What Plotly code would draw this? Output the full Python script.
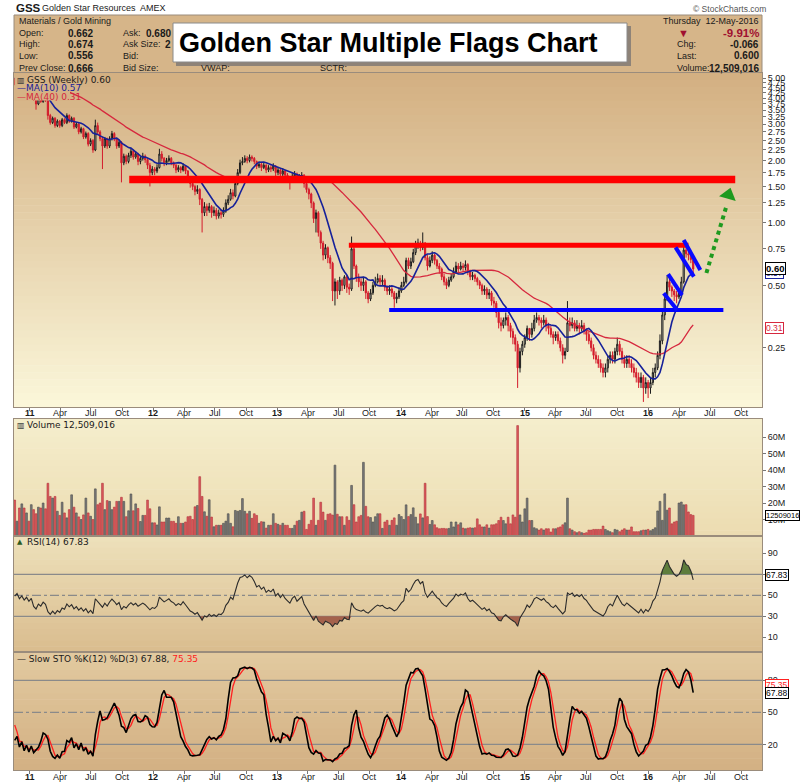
import numpy as np
import pandas as pd
import plotly.graph_objects as go

# ---------------------------------------------------------------- data
N_PRE = 40  # weeks of history before the first plotted week (feeds MAs / oscillators)
WEEKS = pd.date_range("2010-02-11", periods=327, freq="7D")

OPEN = [
    3.70, 3.75, 4.00, 3.85, 4.15, 4.05, 4.35, 4.20, 4.55, 4.40,
    4.70, 4.50, 4.80, 4.60, 4.85, 4.55, 4.75, 4.50, 4.80, 4.95,
    4.70, 4.45, 4.65, 4.40, 4.70, 4.85, 4.60, 4.90, 5.05, 4.80,
    5.10, 4.90, 5.20, 5.00, 5.25, 4.95, 5.15, 4.90, 5.10, 4.85,
    4.95, 4.70, 4.85, 4.55, 4.70, 4.45, 4.60, 4.35, 4.50, 3.95,
    3.75, 4.00, 3.85, 4.05, 3.90, 3.30, 3.05, 3.20, 2.95, 3.10,
    2.95, 3.15, 3.05, 3.30, 3.10, 3.20, 2.90, 3.00, 2.75, 2.85,
    2.60, 2.70, 2.40, 2.50, 2.25, 2.95, 2.75, 2.55, 2.35, 2.55,
    2.35, 2.55, 2.70, 2.55, 2.35, 2.45, 1.95, 2.10, 1.98, 2.12,
    2.22, 2.08, 2.15, 1.98, 2.05, 2.10, 2.02, 1.90, 1.75, 1.82,
    1.78, 1.85, 2.15, 2.05, 1.95, 2.00, 2.05, 1.95, 1.90, 1.80,
    1.85, 1.80, 1.88, 1.78, 1.65, 1.55, 1.50, 1.42, 1.45, 1.30,
    1.12, 1.20, 1.15, 1.20, 1.12, 1.15, 1.08, 1.12, 1.10, 1.14,
    1.25, 1.30, 1.40, 1.35, 1.55, 1.75, 1.95, 1.98, 2.05, 2.00,
    2.08, 2.05, 1.98, 1.88, 1.92, 1.85, 1.90, 1.80, 1.85, 1.82,
    1.88, 1.75, 1.80, 1.72, 1.78, 1.70, 1.65, 1.60, 1.68, 1.72,
    1.62, 1.66, 1.70, 1.55, 1.45, 1.38, 1.25, 1.05, 1.12, 0.90,
    0.80, 0.70, 0.76, 0.68, 0.64, 0.47, 0.52, 0.47, 0.53, 0.50,
    0.55, 0.49, 0.48, 0.75, 0.62, 0.55, 0.52, 0.50, 0.52, 0.46,
    0.43, 0.46, 0.50, 0.52, 0.54, 0.52, 0.53, 0.49, 0.47, 0.48,
    0.46, 0.43, 0.44, 0.47, 0.50, 0.52, 0.66, 0.62, 0.65, 0.72,
    0.78, 0.80, 0.76, 0.80, 0.68, 0.62, 0.66, 0.70, 0.66, 0.62,
    0.60, 0.55, 0.52, 0.50, 0.53, 0.55, 0.58, 0.62, 0.60, 0.62,
    0.61, 0.63, 0.58, 0.55, 0.56, 0.54, 0.52, 0.50, 0.47, 0.48,
    0.45, 0.46, 0.42, 0.41, 0.37, 0.33, 0.32, 0.34, 0.35, 0.32,
    0.30, 0.28, 0.26, 0.20, 0.24, 0.26, 0.28, 0.31, 0.29, 0.31,
    0.34, 0.35, 0.34, 0.33, 0.34, 0.32, 0.31, 0.29, 0.28, 0.29,
    0.27, 0.25, 0.23, 0.24, 0.33, 0.32, 0.33, 0.31, 0.32, 0.31,
    0.32, 0.30, 0.29, 0.27, 0.25, 0.23, 0.22, 0.21, 0.20, 0.19,
    0.20, 0.22, 0.23, 0.22, 0.24, 0.26, 0.24, 0.22, 0.21, 0.22,
    0.21, 0.20, 0.19, 0.18, 0.17, 0.18, 0.16, 0.17, 0.16, 0.17,
    0.19, 0.20, 0.23, 0.27, 0.36, 0.43, 0.52, 0.49, 0.47, 0.45,
    0.44, 0.46, 0.52, 0.74, 0.71, 0.70, 0.662,
]
HIGH = [
    3.82, 4.08, 4.06, 4.22, 4.20, 4.42, 4.40, 4.62, 4.60, 4.78,
    4.75, 4.88, 4.86, 4.92, 4.90, 4.82, 4.80, 4.88, 5.02, 5.00,
    4.75, 4.72, 4.70, 4.78, 4.92, 4.90, 4.98, 5.12, 5.10, 5.18,
    5.15, 5.28, 5.25, 5.32, 5.30, 5.22, 5.20, 5.18, 5.15, 5.02,
    5.00, 4.92, 4.90, 4.78, 4.75, 4.68, 4.65, 4.58, 4.55, 3.98,
    4.06, 4.05, 4.10, 4.08, 3.92, 3.36, 3.26, 3.24, 3.16, 3.14,
    3.21, 3.20, 3.38, 3.34, 3.26, 3.24, 3.06, 3.04, 2.91, 2.88,
    2.76, 2.74, 2.56, 2.54, 3.15, 3.05, 2.80, 2.60, 2.60, 2.58,
    2.62, 2.78, 2.74, 2.58, 2.52, 2.48, 2.16, 2.14, 2.18, 2.28,
    2.26, 2.22, 2.18, 2.10, 2.18, 2.14, 2.05, 1.95, 1.88, 1.86,
    1.92, 2.28, 2.22, 2.08, 2.06, 2.12, 2.08, 1.98, 1.93, 1.90,
    1.88, 1.94, 1.90, 1.80, 1.68, 1.60, 1.53, 1.52, 1.47, 1.32,
    1.26, 1.24, 1.25, 1.22, 1.20, 1.18, 1.16, 1.16, 1.19, 1.30,
    1.36, 1.46, 1.45, 1.62, 1.82, 2.02, 2.08, 2.12, 2.10, 2.14,
    2.12, 2.08, 2.00, 1.98, 1.95, 1.96, 1.92, 1.90, 1.90, 1.94,
    1.90, 1.86, 1.82, 1.84, 1.80, 1.74, 1.68, 1.74, 1.78, 1.75,
    1.72, 1.76, 1.72, 1.58, 1.48, 1.40, 1.27, 1.16, 1.14, 0.92,
    0.82, 0.79, 0.77, 0.70, 0.65, 0.54, 0.53, 0.55, 0.54, 0.56,
    0.56, 0.51, 0.86, 0.78, 0.63, 0.57, 0.54, 0.55, 0.53, 0.47,
    0.48, 0.52, 0.55, 0.57, 0.56, 0.56, 0.54, 0.50, 0.50, 0.49,
    0.47, 0.46, 0.49, 0.52, 0.55, 0.68, 0.68, 0.68, 0.75, 0.82,
    0.84, 0.82, 0.90, 0.81, 0.70, 0.69, 0.73, 0.71, 0.67, 0.64,
    0.61, 0.57, 0.54, 0.55, 0.57, 0.61, 0.65, 0.64, 0.65, 0.64,
    0.66, 0.64, 0.59, 0.58, 0.57, 0.55, 0.53, 0.51, 0.50, 0.49,
    0.48, 0.47, 0.44, 0.42, 0.38, 0.35, 0.35, 0.37, 0.36, 0.33,
    0.31, 0.29, 0.27, 0.25, 0.27, 0.29, 0.32, 0.31, 0.33, 0.36,
    0.37, 0.36, 0.35, 0.36, 0.35, 0.33, 0.32, 0.30, 0.30, 0.30,
    0.28, 0.26, 0.25, 0.42, 0.35, 0.35, 0.34, 0.34, 0.33, 0.34,
    0.33, 0.31, 0.30, 0.28, 0.26, 0.24, 0.23, 0.22, 0.21, 0.21,
    0.23, 0.24, 0.24, 0.25, 0.28, 0.27, 0.25, 0.23, 0.23, 0.23,
    0.22, 0.21, 0.20, 0.19, 0.19, 0.185, 0.18, 0.175, 0.18, 0.20,
    0.21, 0.24, 0.29, 0.38, 0.46, 0.56, 0.54, 0.50, 0.48, 0.47,
    0.48, 0.55, 0.77, 0.79, 0.74, 0.72, 0.674,
]
LOW = [
    3.62, 3.70, 3.78, 3.80, 3.98, 4.00, 4.12, 4.15, 4.32, 4.35,
    4.42, 4.45, 4.52, 4.55, 4.48, 4.50, 4.42, 4.45, 4.75, 4.62,
    4.38, 4.40, 4.32, 4.35, 4.65, 4.52, 4.55, 4.85, 4.72, 4.75,
    4.82, 4.85, 4.92, 4.95, 4.88, 4.90, 4.82, 4.85, 4.78, 4.80,
    4.62, 4.65, 4.48, 4.50, 4.38, 4.40, 4.28, 4.30, 3.88, 3.52,
    3.70, 3.80, 3.80, 3.84, 3.15, 2.98, 3.00, 2.88, 2.90, 2.88,
    2.90, 3.00, 3.00, 3.04, 3.05, 2.84, 2.86, 2.68, 2.70, 2.54,
    2.55, 2.34, 2.35, 2.18, 2.22, 2.68, 2.48, 1.82, 2.30, 2.28,
    2.30, 2.50, 2.48, 2.28, 2.30, 1.57, 1.90, 1.92, 1.94, 2.06,
    2.02, 2.04, 1.90, 1.92, 2.00, 1.95, 1.82, 1.50, 1.70, 1.70,
    1.74, 1.83, 1.98, 1.88, 1.90, 1.96, 1.90, 1.84, 1.74, 1.76,
    1.74, 1.77, 1.72, 1.60, 1.48, 1.44, 1.36, 1.38, 1.22, 0.90,
    1.08, 1.08, 1.12, 1.06, 1.08, 1.04, 1.05, 1.05, 1.07, 1.12,
    1.22, 1.28, 1.30, 1.33, 1.52, 1.72, 1.90, 1.95, 1.94, 1.96,
    1.98, 1.92, 1.82, 1.84, 1.78, 1.82, 1.74, 1.76, 1.76, 1.78,
    1.68, 1.70, 1.62, 1.68, 1.64, 1.58, 1.45, 1.56, 1.64, 1.56,
    1.58, 1.62, 1.48, 1.40, 1.30, 1.18, 1.00, 0.90, 0.86, 0.75,
    0.66, 0.67, 0.64, 0.60, 0.42, 0.40, 0.43, 0.45, 0.47, 0.48,
    0.46, 0.45, 0.47, 0.60, 0.52, 0.49, 0.47, 0.47, 0.43, 0.41,
    0.42, 0.45, 0.49, 0.51, 0.50, 0.50, 0.47, 0.45, 0.45, 0.44,
    0.39, 0.41, 0.43, 0.46, 0.49, 0.51, 0.60, 0.60, 0.64, 0.70,
    0.75, 0.73, 0.74, 0.66, 0.59, 0.61, 0.64, 0.63, 0.60, 0.57,
    0.53, 0.50, 0.48, 0.49, 0.52, 0.54, 0.57, 0.58, 0.59, 0.58,
    0.59, 0.56, 0.53, 0.53, 0.52, 0.50, 0.48, 0.45, 0.45, 0.43,
    0.43, 0.40, 0.39, 0.35, 0.31, 0.30, 0.31, 0.32, 0.30, 0.28,
    0.26, 0.24, 0.16, 0.19, 0.23, 0.25, 0.27, 0.27, 0.28, 0.30,
    0.33, 0.32, 0.31, 0.32, 0.30, 0.29, 0.28, 0.26, 0.27, 0.26,
    0.24, 0.21, 0.22, 0.24, 0.30, 0.31, 0.30, 0.30, 0.29, 0.30,
    0.29, 0.27, 0.26, 0.24, 0.22, 0.21, 0.20, 0.19, 0.18, 0.18,
    0.19, 0.21, 0.21, 0.21, 0.23, 0.23, 0.21, 0.20, 0.20, 0.20,
    0.19, 0.18, 0.17, 0.16, 0.16, 0.137, 0.15, 0.143, 0.15, 0.165,
    0.18, 0.195, 0.22, 0.26, 0.34, 0.42, 0.47, 0.44, 0.42, 0.41,
    0.43, 0.45, 0.51, 0.68, 0.66, 0.64, 0.556,
]
CLOSE = [
    3.75, 4.00, 3.85, 4.15, 4.05, 4.35, 4.20, 4.55, 4.40, 4.70,
    4.50, 4.80, 4.60, 4.85, 4.55, 4.75, 4.50, 4.80, 4.95, 4.70,
    4.45, 4.65, 4.40, 4.70, 4.85, 4.60, 4.90, 5.05, 4.80, 5.10,
    4.90, 5.20, 5.00, 5.25, 4.95, 5.15, 4.90, 5.10, 4.85, 4.95,
    4.70, 4.85, 4.55, 4.70, 4.45, 4.60, 4.35, 4.50, 3.95, 3.75,
    4.00, 3.85, 4.05, 3.90, 3.30, 3.05, 3.20, 2.95, 3.10, 2.95,
    3.15, 3.05, 3.30, 3.10, 3.20, 2.90, 3.00, 2.75, 2.85, 2.60,
    2.70, 2.40, 2.50, 2.25, 2.95, 2.75, 2.55, 2.35, 2.55, 2.35,
    2.55, 2.70, 2.55, 2.35, 2.45, 1.95, 2.10, 1.98, 2.12, 2.22,
    2.08, 2.15, 1.98, 2.05, 2.10, 2.02, 1.90, 1.75, 1.82, 1.78,
    1.85, 2.15, 2.05, 1.95, 2.00, 2.05, 1.95, 1.90, 1.80, 1.85,
    1.80, 1.88, 1.78, 1.65, 1.55, 1.50, 1.42, 1.45, 1.30, 1.12,
    1.20, 1.15, 1.20, 1.12, 1.15, 1.08, 1.12, 1.10, 1.14, 1.25,
    1.30, 1.40, 1.35, 1.55, 1.75, 1.95, 1.98, 2.05, 2.00, 2.08,
    2.05, 1.98, 1.88, 1.92, 1.85, 1.90, 1.80, 1.85, 1.82, 1.88,
    1.75, 1.80, 1.72, 1.78, 1.70, 1.65, 1.60, 1.68, 1.72, 1.62,
    1.66, 1.70, 1.55, 1.45, 1.38, 1.25, 1.05, 1.12, 0.90, 0.80,
    0.70, 0.76, 0.68, 0.64, 0.47, 0.52, 0.47, 0.53, 0.50, 0.55,
    0.49, 0.48, 0.75, 0.62, 0.55, 0.52, 0.50, 0.52, 0.46, 0.43,
    0.46, 0.50, 0.52, 0.54, 0.52, 0.53, 0.49, 0.47, 0.48, 0.46,
    0.43, 0.44, 0.47, 0.50, 0.52, 0.66, 0.62, 0.65, 0.72, 0.78,
    0.80, 0.76, 0.80, 0.68, 0.62, 0.66, 0.70, 0.66, 0.62, 0.60,
    0.55, 0.52, 0.50, 0.53, 0.55, 0.58, 0.62, 0.60, 0.62, 0.61,
    0.63, 0.58, 0.55, 0.56, 0.54, 0.52, 0.50, 0.47, 0.48, 0.45,
    0.46, 0.42, 0.41, 0.37, 0.33, 0.32, 0.34, 0.35, 0.32, 0.30,
    0.28, 0.26, 0.20, 0.24, 0.26, 0.28, 0.31, 0.29, 0.31, 0.34,
    0.35, 0.34, 0.33, 0.34, 0.32, 0.31, 0.29, 0.28, 0.29, 0.27,
    0.25, 0.23, 0.24, 0.33, 0.32, 0.33, 0.31, 0.32, 0.31, 0.32,
    0.30, 0.29, 0.27, 0.25, 0.23, 0.22, 0.21, 0.20, 0.19, 0.20,
    0.22, 0.23, 0.22, 0.24, 0.26, 0.24, 0.22, 0.21, 0.22, 0.21,
    0.20, 0.19, 0.18, 0.17, 0.18, 0.16, 0.17, 0.16, 0.17, 0.19,
    0.20, 0.23, 0.27, 0.36, 0.43, 0.52, 0.49, 0.47, 0.45, 0.44,
    0.46, 0.52, 0.74, 0.71, 0.70, 0.666, 0.600,
]
VOLUME_M = [  # millions of shares
    15, 12, 14, 18, 13, 16, 20, 17, 15, 12,
    14, 19, 16, 13, 15, 11, 14, 17, 12, 13,
    16, 18, 12, 14, 11, 13, 16, 19, 21, 17,
    15, 13, 16, 18, 14, 12, 15, 13, 16, 14,
    21.8, 9, 17, 19.5, 17, 14, 9, 19, 16, 13.5,
    17.5, 17, 20, 16.5, 32, 24, 23, 24, 15, 12.5,
    20.5, 14, 11, 16, 25, 17.5, 14, 11.6, 10, 12.8,
    23, 14, 12, 10, 28.6, 19, 20, 32, 16, 21.5,
    21, 16, 17.5, 21, 21, 23.5, 21, 11.7, 15.3, 25.5,
    15.3, 19.5, 16.7, 8.8, 12.5, 12.5, 21.8, 16.5, 8, 8,
    6.7, 17.7, 8.5, 8.5, 10.9, 10.9, 8.9, 8.9, 7.7, 11.7,
    7.7, 7.7, 8.5, 11.7, 12, 10, 17.7, 18.5, 36, 24,
    14.7, 12, 22, 11.5, 5.6, 6.5, 6.5, 6.5, 7.7, 9,
    13.5, 7.7, 5.6, 15.5, 15, 15.5, 22.7, 15, 13.5, 15,
    10.7, 13.5, 12.5, 7.7, 8.7, 8.5, 4.8, 6.5, 6.5, 13.5,
    7.7, 7.1, 6.5, 7.7, 6.5, 6.5, 4.6, 4.6, 6.5, 9,
    9.5, 14.5, 15, 4, 7.1, 9.5, 23, 6.5, 9.5, 20.5,
    14.5, 9.5, 13.2, 13.5, 12.7, 43, 13.2, 11.7, 11.7, 6.5,
    11.7, 9.5, 30.7, 19, 8.5, 11.7, 12.5, 44.7, 18, 11.7,
    11.2, 8.5, 11.7, 13.5, 13.5, 4.6, 8.5, 9.5, 6.5, 9.5,
    11, 6.5, 13, 11.8, 10, 18.9, 11.8, 13, 17.1, 11.4,
    7.4, 13.4, 11, 32, 11.8, 7, 9.4, 6.8, 5.0, 4.4,
    4.6, 4.6, 4.4, 4.6, 8.5, 5.5, 8.5, 6.8, 8.0, 4.8,
    4.4, 4.8, 5.0, 4.8, 5.0, 10.4, 6.8, 5.5, 5.5, 6.8,
    4.8, 6.8, 6.8, 7.4, 9.4, 11.4, 9.4, 7.4, 11.4, 7.4,
    12.8, 11.4, 67, 12.8, 8.5, 16.5, 23, 9.4, 9.4, 5.0,
    4.4, 3.6, 4.4, 3.6, 4.4, 4.4, 2.4, 4.4, 4.4, 5.0,
    5.5, 6.8, 8.0, 23, 4.4, 3.6, 2.6, 2.0, 2.6, 2.0,
    1.6, 2.0, 3.6, 3.6, 4.0, 4.0, 4.0, 4.0, 6.0, 4.0,
    3.2, 2.6, 2.0, 4.0, 3.6, 2.6, 3.6, 4.4, 3.6, 3.6,
    5.5, 2.6, 2.6, 2.6, 3.2, 3.6, 3.6, 4.0, 3.2, 4.0,
    5.0, 15.2, 21, 9.5, 25.6, 15.7, 17, 7.4, 8.5, 9.0,
    20, 20.6, 18.9, 19, 14.6, 13, 12.509016,
]
assert len(OPEN) == len(HIGH) == len(LOW) == len(CLOSE) == len(VOLUME_M) == len(WEEKS)

# analyst drawings (date, price)
RED_LONG_X, RED_LONG_Y = ["2011-10-22", "2016-09-13"], [1.62, 1.62]
RED_SHORT_X, RED_SHORT_Y = ["2013-07-31", "2016-04-28"], [0.78, 0.78]
BLUE_LEVEL_X, BLUE_LEVEL_Y = ["2013-11-27", "2016-08-09"], [0.38, 0.38]
FLAG1_A_X, FLAG1_A_Y = ["2016-02-15", "2016-03-26"], [0.458, 0.380]
FLAG1_B_X, FLAG1_B_Y = ["2016-02-28", "2016-04-09"], [0.567, 0.449]
FLAG2_A_X, FLAG2_A_Y = ["2016-03-21", "2016-05-14"], [0.763, 0.551]
FLAG2_B_X, FLAG2_B_Y = ["2016-04-14", "2016-06-02"], [0.828, 0.593]
TARGET_X, TARGET_Y = ["2016-06-20", "2016-08-19"], [0.574, 1.22]
TARGET_HEAD_X, TARGET_HEAD_Y = ["2016-08-24"], [1.365]

PRICE_TICKS = [0.25, 0.5, 0.75, 1.0, 1.25, 1.5, 1.75, 2.0, 2.25, 2.5, 2.75, 3.0,
               3.25, 3.5, 3.75, 4.0, 4.25, 4.5, 4.75, 5.0]
VOL_TICKS = [10, 20, 30, 40, 50, 60]
VOL_LABELS = ["10M", "20M", "30M", "40M", "50M", "60M"]
RSI_TICKS = [10, 30, 50, 70, 90]
STO_TICKS = [20, 50, 80]
X_TICKS = [f"{y}-{m:02d}-01" for y in range(2011, 2017) for m in (1, 4, 7, 10)]
X_LABELS = [lab for y in range(11, 17) for lab in (f"<b>{y}</b>", "Apr", "Jul", "Oct")]

# ---------------------------------------------------------------- indicators
close = np.array(CLOSE, float)
ma10 = pd.Series(close).rolling(10).mean().values
ma40 = pd.Series(close).rolling(40).mean().values

delta = np.diff(close)
gain, loss = np.clip(delta, 0, None), np.clip(-delta, 0, None)
rsi = np.full(len(close), np.nan)
ag, al = gain[:14].mean(), loss[:14].mean()
rsi[14] = 100 - 100 / (1 + ag / al)
for k in range(14, len(delta)):
    ag = (ag * 13 + gain[k]) / 14
    al = (al * 13 + loss[k]) / 14
    rsi[k + 1] = 100 - 100 / (1 + ag / al)

hh = pd.Series(HIGH).rolling(12).max()
ll = pd.Series(LOW).rolling(12).min()
fastk = 100 * (pd.Series(close) - ll) / (hh - ll)
slowk = fastk.rolling(3).mean()
slowd = slowk.rolling(3).mean()

v = slice(N_PRE, None)
X = WEEKS[v]

# ---------------------------------------------------------------- geometry helpers
L_PX, R_PX, T_PX, B_PX = 14, 762, 15, 770
W_PX, H_PX = R_PX - L_PX, B_PX - T_PX


def px(x):
    return (x - L_PX) / W_PX


def py(y):
    return (B_PX - y) / H_PX


def hx(c):
    c = c.lstrip("#")
    return [int(c[i:i + 2], 16) for i in (0, 2, 4)]


def mix(c1, c2, t):
    a, b = hx(c1), hx(c2)
    return "rgb({},{},{})".format(*[round(a[i] + (b[i] - a[i]) * t) for i in range(3)])


shapes = []


def gradient(y_top, y_bot, c_top, c_bot, n=36, x0=L_PX, x1=R_PX):
    step = (y_bot - y_top) / n
    for k in range(n):
        yt = y_top + k * step
        yb = yt + step
        shapes.append(dict(type="rect", xref="paper", yref="paper", x0=px(x0), x1=px(x1),
                           y0=py(min(yb + 0.6, y_bot)), y1=py(yt), layer="below",
                           fillcolor=mix(c_top, c_bot, (k + 0.5) / n), line=dict(width=0)))


PRICE_TOP, PRICE_BOT = 73, 407
VOL_TOP, VOL_BOT = 419, 536
RSI_TOP, RSI_BOT = 536, 652
STO_TOP, STO_BOT = 652, 770

C_PRICE = ("#d3af81", "#fbf7da")
C_VOL = ("#f5eecd", "#ecdcb1")
C_RSI = ("#eee1bb", "#d9bc8e")
C_STO = ("#e2caa0", "#d3b083")

shapes.append(dict(type="rect", xref="paper", yref="paper", x0=px(L_PX), x1=px(R_PX),
                   y0=py(PRICE_TOP), y1=py(T_PX), layer="below", fillcolor="#d6b589",
                   line=dict(color="#9a8c7c", width=1)))
gradient(PRICE_TOP, PRICE_BOT, *C_PRICE, n=48)
gradient(VOL_TOP, VOL_BOT, *C_VOL, n=20)
gradient(RSI_TOP, RSI_BOT, *C_RSI, n=20)
gradient(STO_TOP, STO_BOT, *C_STO, n=20)

# legend backdrop in price panel (hides bars behind legend text)
shapes.append(dict(type="rect", xref="paper", yref="paper", x0=px(14.5), x1=px(70),
                   y0=py(100.5), y1=py(73.5), layer="above",
                   fillcolor=mix(*C_PRICE, (87 - PRICE_TOP) / (PRICE_BOT - PRICE_TOP)),
                   line=dict(width=0)))

# title box with shadow
shapes.append(dict(type="rect", xref="paper", yref="paper", x0=px(176), x1=px(631),
                   y0=py(66), y1=py(26), fillcolor="#8e8378", line=dict(width=0), layer="above"))
shapes.append(dict(type="rect", xref="paper", yref="paper", x0=px(173), x1=px(627),
                   y0=py(62), y1=py(23), fillcolor="#ffffff",
                   line=dict(color="#8a8a8a", width=1), layer="above"))

# oscillator reference lines
for yv, dash in ((70, "solid"), (50, "dashdot"), (30, "solid")):
    shapes.append(dict(type="line", xref="paper", yref="y3", x0=0, x1=1, y0=yv, y1=yv,
                       line=dict(color="#8a8a8a", width=1.2, dash=dash), layer="below"))
for yv, dash in ((80, "solid"), (50, "dashdot"), (20, "solid")):
    shapes.append(dict(type="line", xref="paper", yref="y4", x0=0, x1=1, y0=yv, y1=yv,
                       line=dict(color="#8a8a8a", width=1.2, dash=dash), layer="below"))

# ---------------------------------------------------------------- traces
fig = go.Figure()

fig.add_trace(go.Candlestick(
    x=X, open=OPEN[v], high=HIGH[v], low=LOW[v], close=CLOSE[v],
    increasing=dict(line=dict(color="#1a1a1a", width=1), fillcolor="#f3eee0"),
    decreasing=dict(line=dict(color="#d41c2c", width=1), fillcolor="#d41c2c"),
    whiskerwidth=0, xaxis="x", yaxis="y", showlegend=False, hoverinfo="skip"))
fig.add_trace(go.Scatter(x=X, y=ma40[v], mode="lines", line=dict(color="#d6283e", width=1.3),
                         xaxis="x", yaxis="y", showlegend=False, hoverinfo="skip"))
fig.add_trace(go.Scatter(x=X, y=ma10[v], mode="lines", line=dict(color="#16219a", width=1.6),
                         xaxis="x", yaxis="y", showlegend=False, hoverinfo="skip"))


def drawing(xs, ys, color, width, dash="solid"):
    fig.add_trace(go.Scatter(x=xs, y=ys, mode="lines", line=dict(color=color, width=width, dash=dash),
                             xaxis="x", yaxis="y", showlegend=False, hoverinfo="skip"))


drawing(RED_LONG_X, RED_LONG_Y, "#ff0000", 7.5)
drawing(RED_SHORT_X, RED_SHORT_Y, "#ff0000", 5)
drawing(BLUE_LEVEL_X, BLUE_LEVEL_Y, "#0000ff", 4)
for fx, fy in ((FLAG1_A_X, FLAG1_A_Y), (FLAG1_B_X, FLAG1_B_Y), (FLAG2_A_X, FLAG2_A_Y), (FLAG2_B_X, FLAG2_B_Y)):
    drawing(fx, fy, "#0a0aff", 4)
drawing(TARGET_X, TARGET_Y, "#1f9a1f", 4, "dot")
fig.add_trace(go.Scatter(x=TARGET_HEAD_X, y=TARGET_HEAD_Y, mode="markers",
                         marker=dict(symbol="triangle-up", size=15, angle=16, color="#1f9a1f",
                                     line=dict(width=0)),
                         xaxis="x", yaxis="y", showlegend=False, hoverinfo="skip"))

# volume
up = [True] + [CLOSE[i] >= CLOSE[i - 1] for i in range(1, len(CLOSE))]
vcol = ["#7a7a7a" if u else "#dc5a5c" for u in up]
vline = ["#4a4a4a" if u else "#b0303a" for u in up]
fig.add_trace(go.Bar(x=X, y=VOLUME_M[v], marker=dict(color=vcol[v], line=dict(color=vline[v], width=0.6)),
                     xaxis="x2", yaxis="y2", showlegend=False, hoverinfo="skip"))

# RSI with overbought / oversold fills
r = rsi[v]
fig.add_trace(go.Scatter(x=X, y=np.full(len(r), 70.0), mode="lines", line=dict(width=0),
                         xaxis="x3", yaxis="y3", showlegend=False, hoverinfo="skip"))
fig.add_trace(go.Scatter(x=X, y=np.maximum(r, 70), mode="lines", line=dict(width=0),
                         fill="tonexty", fillcolor="#5e7d3c", xaxis="x3", yaxis="y3",
                         showlegend=False, hoverinfo="skip"))
fig.add_trace(go.Scatter(x=X, y=np.full(len(r), 30.0), mode="lines", line=dict(width=0),
                         xaxis="x3", yaxis="y3", showlegend=False, hoverinfo="skip"))
fig.add_trace(go.Scatter(x=X, y=np.minimum(r, 30), mode="lines", line=dict(width=0),
                         fill="tonexty", fillcolor="#a4624c", xaxis="x3", yaxis="y3",
                         showlegend=False, hoverinfo="skip"))
fig.add_trace(go.Scatter(x=X, y=r, mode="lines", line=dict(color="#2b2b2b", width=1.1),
                         xaxis="x3", yaxis="y3", showlegend=False, hoverinfo="skip"))

# Slow stochastic
fig.add_trace(go.Scatter(x=X, y=slowd.values[v], mode="lines", line=dict(color="#ff2020", width=1.3),
                         xaxis="x4", yaxis="y4", showlegend=False, hoverinfo="skip"))
fig.add_trace(go.Scatter(x=X, y=slowk.values[v], mode="lines", line=dict(color="#000000", width=1.6),
                         xaxis="x4", yaxis="y4", showlegend=False, hoverinfo="skip"))

# ---------------------------------------------------------------- axes
XR = ["2010-11-16", "2016-12-01"]
AXC = "#9a8c7c"
TICKF = dict(family="Liberation Sans, Arial, sans-serif", size=9, color="#1a1a1a")
base_x = dict(type="date", range=XR, showgrid=False, zeroline=False, showline=True, mirror=True,
              linecolor=AXC, linewidth=1, fixedrange=True, rangeslider=dict(visible=False),
              showticklabels=False)
tick_x = dict(base_x, tickvals=X_TICKS, ticks="outside", ticklen=3, tickcolor="#777")
nolab_x = dict(base_x, ticks="")
base_y = dict(showgrid=False, zeroline=False, showline=True, mirror=True, linecolor=AXC,
              linewidth=1, side="right", ticks="outside", ticklen=3, tickcolor="#777",
              tickfont=TICKF, fixedrange=True, automargin=False)

fig.update_layout(
    xaxis=dict(tick_x, anchor="y"),
    xaxis2=dict(nolab_x, anchor="y2"),
    xaxis3=dict(nolab_x, anchor="y3"),
    xaxis4=dict(tick_x, anchor="y4"),
    yaxis=dict(base_y, domain=[py(PRICE_BOT), py(PRICE_TOP)], type="log", anchor="x",
               range=[np.log10(0.1295), np.log10(5.29)], tickvals=PRICE_TICKS,
               ticktext=[f"{t:.2f}" for t in PRICE_TICKS]),
    yaxis2=dict(base_y, domain=[py(VOL_BOT), py(VOL_TOP)], anchor="x2", range=[0, 71],
                tickvals=VOL_TICKS, ticktext=VOL_LABELS),
    yaxis3=dict(base_y, domain=[py(RSI_BOT), py(RSI_TOP)], anchor="x3", range=[-4, 106.5],
                tickvals=RSI_TICKS),
    yaxis4=dict(base_y, domain=[py(STO_BOT), py(STO_TOP)], anchor="x4", range=[-4, 106.5],
                tickvals=STO_TICKS),
    width=800, height=783,
    margin=dict(l=L_PX, r=800 - R_PX, t=T_PX, b=783 - B_PX, autoexpand=False),
    paper_bgcolor="#ffffff", plot_bgcolor="rgba(0,0,0,0)",
    bargap=0.25, showlegend=False, shapes=shapes,
)

# ---------------------------------------------------------------- text
SANS = "Liberation Sans, Arial, sans-serif"
DJV = "DejaVu Sans, Verdana, sans-serif"
ann = []


def text(x, y, s, size=9, color="#1a1a1a", family=SANS, anchor="left", bold=False, **kw):
    if bold:
        s = f"<b>{s}</b>"
    ann.append(dict(x=px(x), y=py(y), xref="paper", yref="paper", text=s, showarrow=False,
                    xanchor=anchor, yanchor="middle", font=dict(size=size, color=color, family=family), **kw))


# date labels under the price panel and under the stochastic panel
for row_y in (413, 777):
    for tv, tl in zip(X_TICKS, X_LABELS):
        ann.append(dict(x=tv, y=py(row_y), xref="x", yref="paper", text=tl, showarrow=False,
                        xanchor="center", yanchor="middle", font=TICKF))

text(14, 8, "GSS", size=11.5, bold=True)
text(40, 8, "Golden Star Resources  AMEX", size=9)
text(768, 9, "© StockCharts.com", size=8.5, color="#555", anchor="right")

text(17, 21, "Materials / Gold Mining", size=9)
for yy, lab, val in ((33, "Open:", "0.662"), (44, "High:", "0.674"), (56, "Low:", "0.556"),
                     (68, "Prev Close:", "0.666")):
    text(17, yy, lab, size=9)
    text(66, yy, val, size=10, bold=True)
text(121, 33, "Ask:", size=9)
text(144, 33, "0.680", size=10, bold=True)
text(121, 44, "Ask Size:", size=9)
text(163, 44, "2", size=10, bold=True)
text(121, 56, "Bid:", size=9)
text(121, 68, "Bid Size:", size=9)
text(199, 68, "VWAP:", size=9)
text(318, 68, "SCTR:", size=9)

text(761, 21, "Thursday  12-May-2016", size=9, anchor="right")
text(683, 33, "▼", size=11, color="#a01030", anchor="center")
text(761, 33, "-9.91%", size=11.5, color="#a01030", anchor="right", bold=True)
text(675, 44, "Chg:", size=9)
text(761, 44, "-0.066", size=10, anchor="right", bold=True)
text(675, 56, "Last:", size=9)
text(761, 56, "0.600", size=10, anchor="right", bold=True)
text(675, 68, "Volume:", size=9)
text(761, 68, "12,509,016", size=10, anchor="right", bold=True)

text(177, 43, "Golden Star Multiple Flags Chart", size=27, color="#000", anchor="left", bold=True)

# panel legends
text(15, 80, "▥", size=8, color="#333", family=DJV)
text(25, 80, "GSS (Weekly) 0.60", size=9, family=DJV)
text(15, 88.5, "—MA(10) 0.57", size=9, color="#16219a", family=DJV)
text(15, 97, "—MA(40) 0.31", size=9, color="#d6283e", family=DJV)
text(15, 425, "▥", size=8, color="#333", family=DJV)
text(25, 425, "Volume 12,509,016", size=9, family=DJV)
text(15, 542, "▲", size=7, color="#2d5a1e", family=DJV)
text(25, 542, "RSI(14) 67.83", size=9, family=DJV)
text(15, 659, "— Slow STO %K(12) %D(3) 67.88, <span style='color:#ff2020'>75.35</span>",
     size=9, family=DJV)

# right-hand value flags
flag = dict(bgcolor="#ffffff", borderwidth=1, borderpad=0)
text(765, 273, "0.57", size=8.5, color="#16219a", bordercolor="#16219a", **flag)
text(765, 268, "0.60", size=9.5, color="#000", bordercolor="#000", bold=True, **flag)
text(765, 328, "0.31", size=8.5, color="#d6283e", bordercolor="#d6283e", **flag)
text(765, 515, "12509016", size=7.5, color="#000", bordercolor="#000", **flag)
text(765, 574.5, "67.83", size=8.5, color="#000", bordercolor="#000", **flag)
text(765, 685, "75.35", size=8.5, color="#ff2020", bordercolor="#ff2020", **flag)
text(765, 693, "67.88", size=8.5, color="#000", bordercolor="#000", **flag)

fig.update_layout(annotations=ann)
fig.write_html(
    "out.html",
    config={"displayModeBar": False, "staticPlot": True},
    post_script="document.body.style.margin='0';document.documentElement.style.overflow='hidden';",
)
